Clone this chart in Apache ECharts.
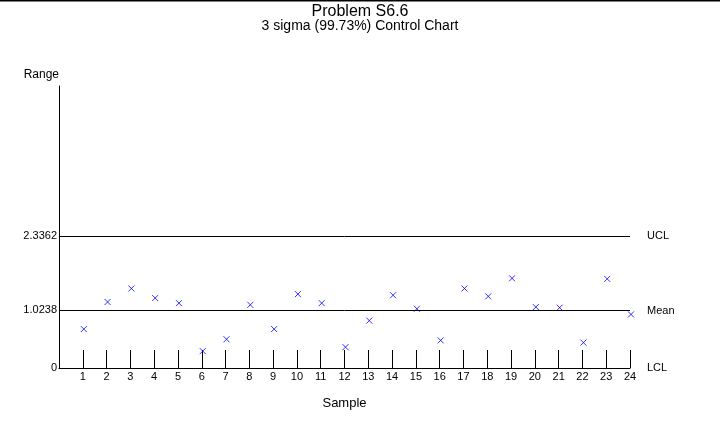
<!DOCTYPE html>
<html>
<head>
<meta charset="utf-8">
<script src="https://cdn.jsdelivr.net/npm/echarts@6/dist/echarts.min.js"></script>
<style>
  html, body { margin: 0; padding: 0; background: #fff; }
  #chart { width: 720px; height: 431px; }
</style>
</head>
<body>
<div id="chart"></div>
<script>
// sample numbers and the range of each sample
const samples = [1, 2, 3, 4, 5, 6, 7, 8, 9, 10, 11, 12, 13, 14, 15, 16, 17, 18, 19, 20, 21, 22, 23, 24];
const ranges = [0.69, 1.17, 1.41, 1.24, 1.15, 0.30, 0.51, 1.12, 0.69, 1.31, 1.15, 0.37,
                0.84, 1.29, 1.05, 0.49, 1.41, 1.27, 1.59, 1.08, 1.07, 0.45, 1.58, 0.95];

// control limits
const limitNames = ['LCL', 'Mean', 'UCL'];
const limitValues = [0, 1.0238, 2.3362];

const font = 'Arial, "Liberation Sans", sans-serif';
const chart = echarts.init(document.getElementById('chart'));

const option = {
  backgroundColor: '#fff',
  animation: false,
  textStyle: { fontFamily: font },
  title: {
    text: 'Problem S6.6',
    subtext: '3 sigma (99.73%) Control Chart',
    left: 'center',
    top: -1,
    itemGap: -1,
    textStyle: { fontFamily: font, fontSize: 16, fontWeight: 'normal', color: '#000' },
    subtextStyle: { fontFamily: font, fontSize: 14, color: '#000' }
  },
  graphic: [
    // top border of the picture
    { type: 'rect', shape: { x: 0, y: 0, width: 720, height: 1.5 }, style: { fill: '#000' } }
  ],
  grid: { left: 59, right: 90, top: 86, bottom: 63 },
  xAxis: {
    type: 'value',
    min: 0,
    max: 24,
    interval: 1,
    name: 'Sample',
    nameLocation: 'middle',
    nameGap: 29,
    nameTextStyle: { fontSize: 13, color: '#000', fontFamily: font },
    axisLine: { lineStyle: { color: '#000', width: 1 } },
    axisTick: { inside: true, length: 18, customValues: samples, lineStyle: { color: '#000' } },
    axisLabel: { customValues: samples, fontSize: 11, color: '#000', margin: 3, fontFamily: font },
    splitLine: { show: false }
  },
  yAxis: {
    type: 'value',
    min: 0,
    max: 5,
    name: 'Range',
    nameLocation: 'end',
    nameGap: 5,
    nameTextStyle: { fontSize: 12, color: '#000', align: 'right', verticalAlign: 'bottom', fontFamily: font },
    axisLine: { show: true, lineStyle: { color: '#000', width: 1 } },
    axisTick: { show: false },
    axisLabel: { customValues: limitValues, fontSize: 11, color: '#000', margin: 2, fontFamily: font },
    splitLine: { show: false }
  },
  series: [{
    type: 'scatter',
    data: samples.map((s, i) => [s, ranges[i]]),
    symbol: 'path://M0,0L10,10M10,0L0,10',
    symbolSize: [6, 6],
    symbolOffset: [1, 0],
    silent: true,
    emphasis: { disabled: true },
    itemStyle: { color: '#0000ff', borderColor: '#0000ff', borderWidth: 1 },
    markLine: {
      silent: true,
      symbol: 'none',
      lineStyle: { color: '#000', width: 1, type: 'solid' },
      label: {
        position: 'end',
        distance: 17,
        fontSize: 11,
        color: '#000',
        fontFamily: font,
        formatter: p => p.name
      },
      data: limitNames.map((n, i) => ({ name: n, yAxis: limitValues[i] }))
    }
  }]
};

chart.setOption(option);
</script>
</body>
</html>
